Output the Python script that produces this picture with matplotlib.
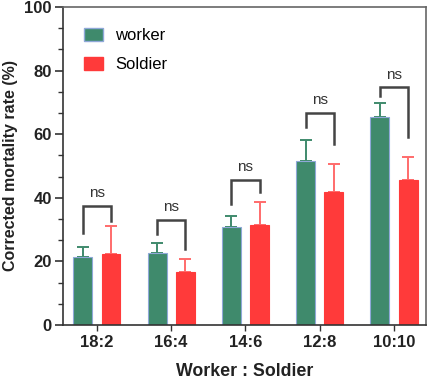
import matplotlib
matplotlib.use("Agg")
import matplotlib.pyplot as plt
import numpy as np
from matplotlib.ticker import AutoMinorLocator
from matplotlib.patches import Patch

plt.rcParams['font.family'] = ['Liberation Sans', 'DejaVu Sans']

categories = ["18:2", "16:4", "14:6", "12:8", "10:10"]
worker = [21.5, 22.7, 30.8, 51.7, 65.4]
worker_err = [3.1, 3.2, 3.5, 6.4, 4.3]
soldier = [22.2, 16.6, 31.4, 41.8, 45.5]
soldier_err = [8.8, 4.2, 7.2, 8.9, 7.4]
bracket_top = [37.4, 33.0, 45.7, 66.6, 74.7]
bracket_left = [28.9, 28.5, 38.0, 62.2, 72.0]
bracket_right = [32.8, 23.9, 41.7, 56.9, 59.0]
sig_labels = ["ns", "ns", "ns", "ns", "ns"]

green = "#3f8a6c"
red = "#ff3a3a"

fig = plt.figure(figsize=(4.29, 3.82), dpi=100)
ax = fig.add_axes([0.147, 0.149, 0.846, 0.833])

x = np.arange(len(categories))
off = 0.19
w = 0.255
ax.bar(x - off, worker, w, color=green, edgecolor="#8fa8d8", linewidth=0.8, zorder=2)
ax.bar(x + off, soldier, w, color=red, edgecolor=red, linewidth=0.8, zorder=2)
ax.errorbar(x - off, worker, yerr=[np.zeros(len(worker)), worker_err], fmt='none',
            ecolor=green, elinewidth=1.4, capsize=4, capthick=1.4, zorder=1)
ax.errorbar(x + off, soldier, yerr=[np.zeros(len(soldier)), soldier_err], fmt='none',
            ecolor="#ff6b6b", elinewidth=1.4, capsize=4, capthick=1.4, zorder=1)

for i in range(len(categories)):
    xl, xr = x[i] - off, x[i] + off
    ax.plot([xl, xl, xr, xr], [bracket_left[i], bracket_top[i], bracket_top[i], bracket_right[i]],
            color="#444444", lw=1.8, solid_joinstyle='miter', zorder=3)
    ax.text(x[i], bracket_top[i] + 1.8, sig_labels[i], ha='center', va='bottom',
            fontsize=11, color="#333333")

ax.set_xlim(-0.455, 4.43)
ax.set_ylim(0, 100)
ax.set_xticks(x)
ax.set_xticklabels(categories, fontsize=12, fontweight='bold', color="#222222")
ax.set_yticks([0, 20, 40, 60, 80, 100])
ax.set_yticklabels(["0", "20", "40", "60", "80", "100"], fontsize=12, fontweight='bold', color="#222222")
ax.yaxis.set_minor_locator(AutoMinorLocator(3))
ax.tick_params(axis='y', which='major', length=6, width=1.2, color="#333333", pad=2)
ax.tick_params(axis='y', which='minor', length=3.5, width=1.0, color="#333333")
ax.tick_params(axis='x', which='major', length=4, width=1.0, color="#333333")
ax.set_ylabel("Corrected mortality rate (%)", fontsize=11.5, fontweight='bold', color="#222222", labelpad=5)
ax.set_xlabel("Worker : Soldier", fontsize=12.8, fontweight='bold', color="#222222", labelpad=9)

for s in ['left', 'bottom']:
    ax.spines[s].set_color("#333333")
    ax.spines[s].set_linewidth(1.2)
for s in ['top', 'right']:
    ax.spines[s].set_color("#666666")
    ax.spines[s].set_linewidth(1.2)

handles = [Patch(facecolor=green, edgecolor="#8fa8d8", label="worker"),
           Patch(facecolor=red, edgecolor=red, label="Soldier")]
ax.legend(handles=handles, loc='upper left', bbox_to_anchor=(0.015, 0.98), frameon=False,
          fontsize=12, handlelength=1.15, handleheight=0.75, labelspacing=0.85, handletextpad=0.75)

fig.savefig("out.png", dpi=100)
